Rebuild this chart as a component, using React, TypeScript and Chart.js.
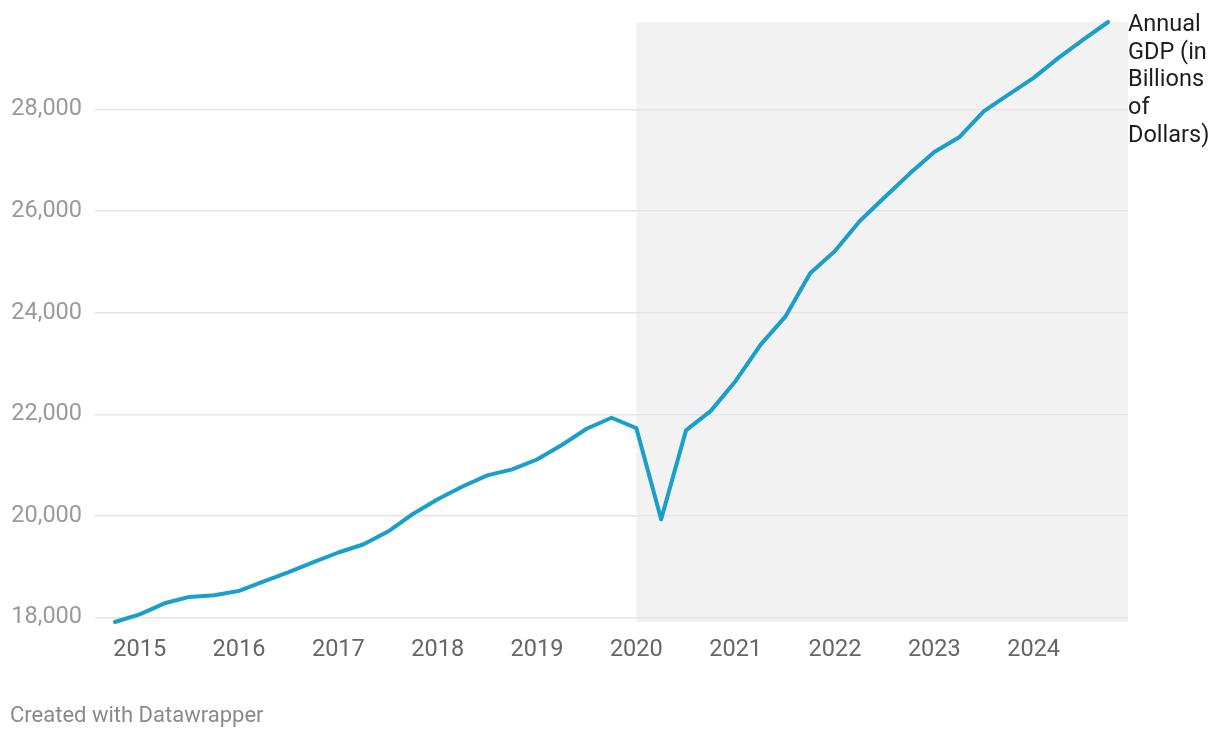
import React, { useEffect, useRef } from "react";
import { Chart, registerables } from "chart.js";

Chart.register(...registerables);

// Quarterly observations (quarter start dates)
const quarters: string[] = [
  "2014-Q4",
  "2015-Q1", "2015-Q2", "2015-Q3", "2015-Q4",
  "2016-Q1", "2016-Q2", "2016-Q3", "2016-Q4",
  "2017-Q1", "2017-Q2", "2017-Q3", "2017-Q4",
  "2018-Q1", "2018-Q2", "2018-Q3", "2018-Q4",
  "2019-Q1", "2019-Q2", "2019-Q3", "2019-Q4",
  "2020-Q1", "2020-Q2", "2020-Q3", "2020-Q4",
  "2021-Q1", "2021-Q2", "2021-Q3", "2021-Q4",
  "2022-Q1", "2022-Q2", "2022-Q3", "2022-Q4",
  "2023-Q1", "2023-Q2", "2023-Q3", "2023-Q4",
  "2024-Q1", "2024-Q2", "2024-Q3", "2024-Q4",
];

const gdpValues: number[] = [
  17912,
  18063, 18280, 18406, 18437,
  18525, 18711, 18892, 19090,
  19280, 19438, 19692, 20038,
  20328, 20580, 20798, 20917,
  21111, 21397, 21717, 21933,
  21728, 19935, 21684, 22068,
  22657, 23368, 23922, 24777,
  25215, 25806, 26272, 26734,
  27164, 27454, 27967, 28297,
  28624, 29017, 29375, 29723,
];

const xTickYears: number[] = [2015, 2016, 2017, 2018, 2019, 2020, 2021, 2022, 2023, 2024];
const yTickValues: number[] = [18000, 20000, 22000, 24000, 26000, 28000];
const seriesLabelLines: string[] = ["Annual", "GDP (in", "Billions", "of", "Dollars)"];
const shadeStartYear = 2020;
const footerText = "Created with Datawrapper";

const FONT = "Roboto, 'Noto Sans', sans-serif";

function quarterToYear(q: string): number {
  const [y, qq] = q.split("-Q");
  return Number(y) + (Number(qq) - 1) / 4;
}

export default function App() {
  const canvasRef = useRef<HTMLCanvasElement | null>(null);

  useEffect(() => {
    document.body.style.margin = "0";
    const canvas = canvasRef.current;
    if (!canvas) return;

    const points = quarters.map((q, i) => ({ x: quarterToYear(q), y: gdpValues[i] }));
    const xMin = points[0].x - 0.2;
    const xMax = points[points.length - 1].x + 0.2;
    const yMin = Math.min(...gdpValues);
    const yMax = Math.max(...gdpValues);

    const shadePlugin = {
      id: "shade",
      beforeDraw(chart: any) {
        const { ctx, chartArea, scales } = chart;
        const x0 = scales.x.getPixelForValue(shadeStartYear);
        ctx.save();
        ctx.fillStyle = "#f2f2f2";
        ctx.fillRect(x0, chartArea.top, chartArea.right - x0, chartArea.bottom - chartArea.top);
        ctx.restore();
      },
    };

    const textPlugin = {
      id: "texts",
      afterDraw(chart: any) {
        const { ctx, chartArea, scales } = chart;
        const lastY = scales.y.getPixelForValue(gdpValues[gdpValues.length - 1]);
        ctx.save();
        ctx.font = `23.5px ${FONT}`;
        ctx.fillStyle = "#1d1d1d";
        ctx.textAlign = "left";
        ctx.textBaseline = "alphabetic";
        seriesLabelLines.forEach((line, i) => {
          ctx.fillText(line, chartArea.right, lastY + 9 + i * 27.7);
        });
        ctx.fillStyle = "#8a8a8a";
        ctx.font = `22px ${FONT}`;
        ctx.fillText(footerText, 10, 722);
        ctx.restore();
      },
    };

    const chart = new Chart(canvas, {
      type: "line",
      data: {
        datasets: [
          {
            label: seriesLabelLines.join(" "),
            data: points,
            borderColor: "#1a9fcb",
            borderWidth: 4,
            pointRadius: 0,
            pointHoverRadius: 0,
            tension: 0,
            fill: false,
            clip: false,
            borderJoinStyle: "round",
            borderCapStyle: "round",
          },
        ],
      },
      options: {
        animation: false,
        responsive: false,
        maintainAspectRatio: false,
        devicePixelRatio: 1,
        layout: { padding: { left: 0, right: 92, top: 22, bottom: 0 } },
        plugins: {
          legend: { display: false },
          tooltip: { enabled: false },
          title: { display: false },
        },
        scales: {
          x: {
            type: "linear",
            min: xMin,
            max: xMax,
            grid: { display: false, drawTicks: false },
            border: { display: false },
            afterBuildTicks: (scale: any) => {
              scale.ticks = xTickYears.map((v) => ({ value: v }));
            },
            afterFit: (scale: any) => {
              scale.height = 116;
              scale.paddingLeft = 0;
              scale.paddingRight = 0;
              scale.paddingTop = 0;
              scale.paddingBottom = 0;
            },
            ticks: {
              color: "#666666",
              font: { family: FONT, size: 23.5 },
              padding: 14,
              maxRotation: 0,
              autoSkip: false,
              callback: (v: any) => String(v),
            },
          },
          y: {
            type: "linear",
            min: yMin,
            max: yMax,
            grid: { color: "#e5e5e5", lineWidth: 1.5, drawTicks: false },
            border: { display: false },
            afterBuildTicks: (scale: any) => {
              scale.ticks = yTickValues.map((v) => ({ value: v }));
            },
            afterFit: (scale: any) => {
              scale.width = 95;
              scale.paddingLeft = 0;
              scale.paddingRight = 0;
              scale.paddingTop = 0;
              scale.paddingBottom = 0;
            },
            ticks: {
              color: "#9a9a9a",
              font: { family: FONT, size: 23.5 },
              padding: 13,
              autoSkip: false,
              callback: (v: any) => Number(v).toLocaleString("en-US"),
            },
          },
        },
      },
      plugins: [shadePlugin, textPlugin],
    });

    return () => {
      chart.destroy();
    };
  }, []);

  return (
    <div style={{ position: "absolute", left: 0, top: 0, width: 1220, height: 738, background: "#fff" }}>
      <canvas ref={canvasRef} width={1220} height={738} style={{ display: "block", width: 1220, height: 738 }} />
    </div>
  );
}
